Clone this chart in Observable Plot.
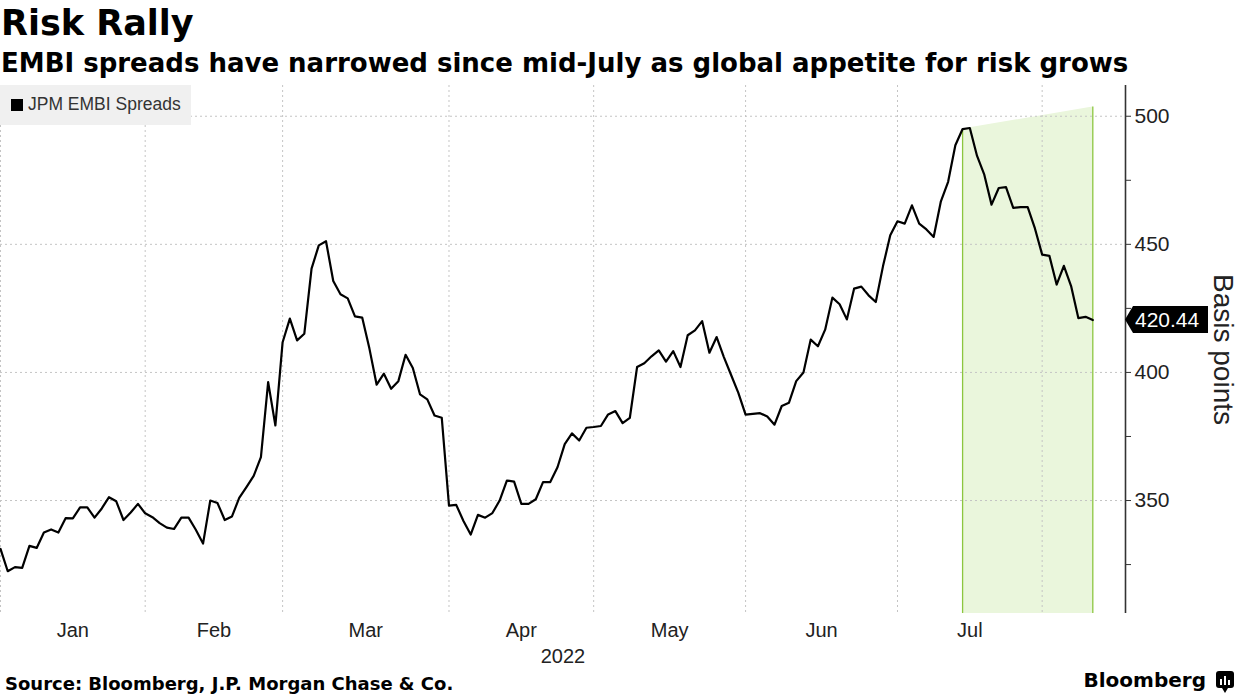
<!DOCTYPE html>
<html>
<head>
<meta charset="utf-8">
<script src="https://cdn.jsdelivr.net/npm/d3@7"></script>
<script src="https://cdn.jsdelivr.net/npm/@observablehq/plot@0.6"></script>
<style>
  html, body { margin: 0; padding: 0; background: #fff; }
  body { width: 1240px; height: 697px; position: relative; overflow: hidden; font-family: "Liberation Sans", Arial, sans-serif; }
  .title { position: absolute; left: 1px; top: 6px; font: bold 35px/1 "DejaVu Sans", sans-serif; color: #000; white-space: nowrap; }
  .subtitle { position: absolute; left: 1px; top: 50px; font: bold 26px/1 "DejaVu Sans", sans-serif; color: #000; white-space: nowrap; }
  #chart { position: absolute; left: 0; top: 80px; }
  .legend { position: absolute; left: 0; top: 85px; width: 191px; height: 40px; background: #f0f0f0; z-index: 2; }
  .legend .sw { position: absolute; left: 11px; top: 14px; width: 12px; height: 12px; background: #000; }
  .legend span.t { position: absolute; left: 28px; top: 11px; font: 17.5px/1 "Liberation Sans", sans-serif; color: #333; white-space: nowrap; }
  .source { position: absolute; left: 5px; top: 675px; font: bold 18px/1 "DejaVu Sans", sans-serif; color: #000; white-space: nowrap; }
  .brand { position: absolute; right: 34px; top: 670px; font: bold 20px/1 "DejaVu Sans", sans-serif; color: #000; white-space: nowrap; }
  .logo { position: absolute; left: 1215px; top: 670px; }
</style>
</head>
<body>
<div class="title">Risk Rally</div>
<div class="subtitle">EMBI spreads have narrowed since mid-July as global appetite for risk grows</div>
<div id="chart"></div>
<div class="legend"><div class="sw"></div><span class="t">JPM EMBI Spreads</span></div>
<div class="source">Source: Bloomberg, J.P. Morgan Chase &amp; Co.</div>
<div class="brand">Bloomberg</div>
<svg class="logo" width="20" height="24" viewBox="0 0 20 24">
  <rect x="1" y="1" width="18" height="17" rx="3" fill="#000"/>
  <path d="M7 18 L10 23 L13 18 Z" fill="#000"/>
  <rect x="5" y="9" width="2" height="6" fill="#fff"/>
  <rect x="9" y="6" width="2" height="9" fill="#fff"/>
  <rect x="13" y="10" width="2" height="5" fill="#fff"/>
</svg>
<script>
// JPM EMBI spreads (basis points), one value per trading day, 2022
const jan = [331.1, 322.4, 324.0, 323.7, 332.3, 331.5, 337.5, 338.7, 337.5, 343.1, 343.0, 347.3, 347.3, 343.3, 346.9, 351.3, 349.7, 342.4, 345.3, 348.7];
const feb = [345.0, 343.5, 341.2, 339.4, 338.9, 343.3, 343.3, 338.6, 333.2, 350.0, 349.0, 342.4, 343.8, 351.0, 355.2, 359.6, 366.9, 396.2, 379.3];
const mar = [411.8, 421.0, 412.5, 415.1, 440.5, 449.6, 451.2, 435.7, 430.5, 428.9, 421.9, 421.4, 409.3, 395.2, 399.5, 393.6, 396.6, 406.9, 401.7, 391.4, 389.5, 383.2, 382.3];
const apr = [348.0, 348.3, 342.0, 336.7, 344.4, 343.3, 345.1, 350.0, 357.8, 357.4, 348.7, 348.7, 350.5, 357.2, 357.2, 363.0, 372.0, 376.2, 373.4, 378.4];
const may = [378.7, 379.1, 383.6, 384.9, 380.2, 382.3, 402.1, 403.6, 406.3, 408.6, 404.2, 408.3, 402.1, 414.5, 416.4, 420.0, 407.7, 413.8, 406.0, 399.0, 392.0];
const jun = [383.5, 383.8, 384.1, 382.8, 379.6, 386.9, 388.2, 396.6, 400.0, 412.8, 410.2, 416.7, 429.2, 426.6, 420.7, 432.7, 433.5, 430.1, 427.5, 441.5, 453.5];
const jul = [459.0, 458.1, 465.2, 458.1, 455.8, 452.9, 466.8, 474.4, 488.7, 495.0, 495.4, 484.5, 477.2, 465.5, 472.0, 472.3, 464.2, 464.5, 464.5, 456.2];
const aug = [446.0, 445.5, 434.3, 441.6, 433.7, 421.2, 421.7, 420.44];

const monthLabels = ["Jan", "Feb", "Mar", "Apr", "May", "Jun", "Jul"];
const yTicks = [350, 400, 450, 500];
const yMinorTicks = [325, 375, 425, 475];
const highlightStart = {month: 6, day: 9};   // Jul 15 (peak) -> last value
const highlightTop = [495.0, 503.6];
const lastLabel = "420.44";

// build index-based (trading day) series
const months = [jan, feb, mar, apr, may, jun, jul, aug];
const monthStarts = [];
const series = [];
let k = 0;
months.forEach(m => { monthStarts.push(k); m.forEach(v => series.push({i: k++, v})); });
const lastI = series.length - 1;
const lastV = series[lastI].v;
const monthCenters = monthLabels.map((lab, j) => ({c: (monthStarts[j] + monthStarts[j + 1]) / 2, lab}));
const shade = [
  {i: monthStarts[highlightStart.month] + highlightStart.day, top: highlightTop[0]},
  {i: lastI, top: highlightTop[1]}
];

const xMax = lastI * 1125 / 1092.3;
const yDomain = [305.9, 512];

const tag = (index, scales, values, dimensions) => {
  const ns = "http://www.w3.org/2000/svg";
  const g = document.createElementNS(ns, "g");
  const x0 = scales.x(xMax), y = scales.y(lastV);
  const p = document.createElementNS(ns, "path");
  p.setAttribute("d", `M${x0},${y} L${x0 + 8},${y - 13.5} H${x0 + 83} V${y + 13.5} H${x0 + 8} Z`);
  p.setAttribute("fill", "#000");
  g.appendChild(p);
  const t = document.createElementNS(ns, "text");
  t.setAttribute("x", x0 + 10);
  t.setAttribute("y", y);
  t.setAttribute("dy", "0.36em");
  t.setAttribute("text-anchor", "start");
  t.setAttribute("fill", "#fff");
  t.setAttribute("font-size", "21");
  t.setAttribute("font-family", "Liberation Sans, sans-serif");
  t.textContent = lastLabel;
  g.appendChild(t);
  return g;
};

const chart = Plot.plot({
  width: 1240,
  height: 600,
  marginTop: 5,
  marginBottom: 67,
  marginLeft: 0,
  marginRight: 115,
  style: {fontFamily: "Liberation Sans, sans-serif", color: "#222", background: "transparent", overflow: "visible"},
  x: {domain: [0, xMax], axis: null},
  y: {domain: yDomain, axis: null},
  marks: [
    Plot.areaY(shade, {x: "i", y1: () => yDomain[0], y2: "top", fill: "#eaf6dc"}),
    Plot.ruleY(yTicks, {stroke: "#c4c4c4", strokeDasharray: "2,3"}),
    Plot.ruleX(monthStarts, {stroke: "#c4c4c4", strokeDasharray: "2,3"}),
    Plot.ruleX(shade, {x: "i", y1: () => yDomain[0], y2: "top", stroke: "#8cc63f", strokeWidth: 1.3}),
    Plot.line(series, {x: "i", y: "v", stroke: "#000", strokeWidth: 2.2}),
    Plot.ruleX([xMax], {stroke: "#333", strokeWidth: 1.6}),
    Plot.axisY(yTicks, {anchor: "right", tickSize: 5, tickPadding: 4, fontSize: 21, color: "#222", stroke: "#333"}),
    Plot.axisY(yMinorTicks, {anchor: "right", tickSize: 5, tickFormat: () => "", stroke: "#333"}),
    Plot.text(monthCenters, {x: "c", text: "lab", frameAnchor: "bottom", lineAnchor: "middle", dy: 17, fontSize: 20, fill: "#222"}),
    Plot.text(["2022"], {frameAnchor: "bottom", lineAnchor: "middle", dy: 43, fontSize: 20, fill: "#222"}),
    Plot.text(["Basis points"], {frameAnchor: "right", textAnchor: "middle", lineAnchor: "middle", dx: 97, rotate: 90, fontSize: 28, fill: "#222"}),
    tag
  ]
});
document.getElementById("chart").appendChild(chart);
</script>
</body>
</html>
